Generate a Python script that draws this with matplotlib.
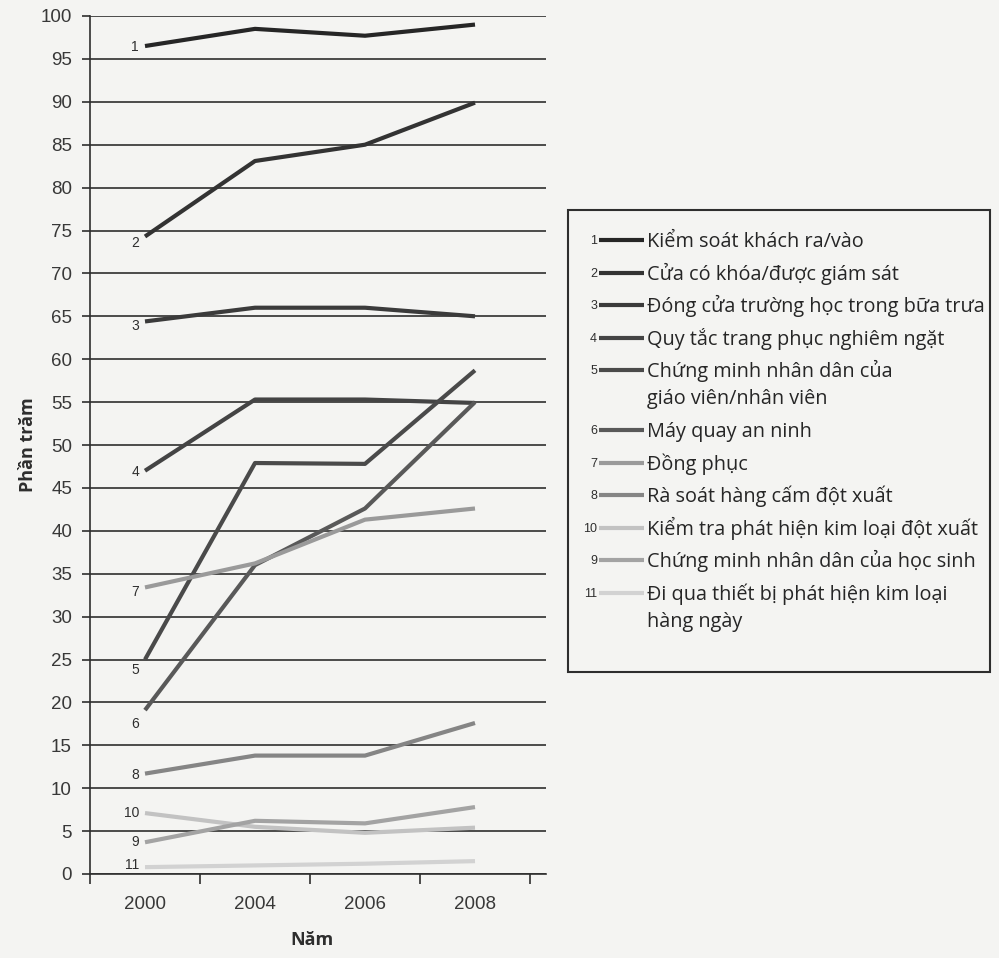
import matplotlib
matplotlib.use('Agg')
import matplotlib.pyplot as plt
from matplotlib.lines import Line2D
from matplotlib.patches import Rectangle

# ---------------------------------------------------------------------------
# data: % of schools using each security measure
# ---------------------------------------------------------------------------
YEARS = ['2000', '2004', '2006', '2008']

SERIES_IDS = ['1', '2', '3', '4', '5', '6', '7', '8', '10', '9', '11']
SERIES_NAMES = [
    'Kiểm soát khách ra/vào',
    'Cửa có khóa/được giám sát',
    'Đóng cửa trường học trong bữa trưa',
    'Quy tắc trang phục nghiêm ngặt',
    'Chứng minh nhân dân của\ngiáo viên/nhân viên',
    'Máy quay an ninh',
    'Đồng phục',
    'Rà soát hàng cấm đột xuất',
    'Kiểm tra phát hiện kim loại đột xuất',
    'Chứng minh nhân dân của học sinh',
    'Đi qua thiết bị phát hiện kim loại\nhàng ngày',
]

VIS_CONTROL    = [96.5, 98.5, 97.7, 99.0]
LOCKED_DOORS   = [74.3, 83.1, 85.0, 89.9]
CLOSED_LUNCH   = [64.4, 66.0, 66.0, 65.0]
DRESS_CODE     = [47.0, 55.3, 55.3, 54.9]
STAFF_ID       = [25.0, 47.9, 47.8, 58.7]
CAMERAS        = [19.1, 36.0, 42.6, 55.0]
UNIFORMS       = [33.4, 36.2, 41.3, 42.6]
CONTRABAND     = [11.7, 13.8, 13.8, 17.6]
RANDOM_METAL   = [7.1, 5.5, 4.8, 5.4]
STUDENT_ID     = [3.7, 6.2, 5.9, 7.8]
DAILY_METAL    = [0.8, 1.0, 1.2, 1.5]

VALUES = [VIS_CONTROL, LOCKED_DOORS, CLOSED_LUNCH, DRESS_CODE, STAFF_ID,
          CAMERAS, UNIFORMS, CONTRABAND, RANDOM_METAL, STUDENT_ID, DAILY_METAL]

# ---------------------------------------------------------------------------
# styling
# ---------------------------------------------------------------------------
COLORS = ['#262626', '#333333', '#3b3b3b', '#444444', '#4a4a4a', '#595959',
          '#9a9a9a', '#858585', '#c2c2c2', '#a3a3a3', '#d2d2d2']
# vertical nudge (px, positive = down) of the number tag at each line start
TAG_DY = [1, 6, 5, 1, 11, 14, 5, 1, 0, 0, -2]

BG = '#f4f4f2'
INK = '#2e2e2e'
W, H = 999, 958
PT = 72 / 100  # points per pixel at dpi=100


def fx(px):
    return px / W


def fy(py):
    return 1 - py / H


plt.rcParams['font.family'] = ['Liberation Sans', 'DejaVu Sans']

fig = plt.figure(figsize=(W / 100, H / 100), dpi=100, facecolor=BG)
ax = fig.add_axes([fx(90), fy(874), fx(546) - fx(90), fy(16) - fy(874)])
ax.set_facecolor(BG)

xs = list(range(len(YEARS)))
for vals, col, tag, dy in zip(VALUES, COLORS, SERIES_IDS, TAG_DY):
    ax.plot(xs, vals, color=col, lw=3.0, solid_capstyle='butt',
            solid_joinstyle='round', zorder=3)
    ax.annotate(tag, (xs[0], vals[0]), xytext=(-6 * PT, -dy * PT),
                textcoords='offset points', ha='right', va='center',
                fontsize=10, color=INK)

ax.set_xlim(-0.5, 3.5 + 16 / 110)
ax.set_ylim(0, 100)

ax.set_yticks(range(0, 101, 5))
ax.yaxis.grid(True, color=INK, lw=1.2)
ax.set_axisbelow(True)
ax.tick_params(axis='y', length=8 * PT, width=1.2, color=INK, pad=10 * PT,
               labelsize=13.5, labelcolor='#383838')

ax.set_xticks(xs)
ax.set_xticklabels(YEARS)
ax.set_xticks([-0.5, 0.5, 1.5, 2.5, 3.5], minor=True)
ax.tick_params(axis='x', which='major', length=0, pad=22 * PT,
               labelsize=13.5, labelcolor='#383838')
ax.tick_params(axis='x', which='minor', length=10 * PT, width=1.2, color=INK)

for side in ('top', 'right'):
    ax.spines[side].set_visible(False)
for side in ('left', 'bottom'):
    ax.spines[side].set_color(INK)
    ax.spines[side].set_linewidth(1.2)

fig.text(fx(28), fy(445), 'Phần trăm', rotation=90, ha='center', va='center',
         fontsize=13, fontweight='bold', color=INK, family=['Open Sans'])
fig.text(fx(312), fy(940), 'Năm', ha='center', va='center',
         fontsize=13, fontweight='bold', color=INK, family=['Open Sans'])

# legend box, built by hand so the series number sits before each key line
fig.add_artist(Rectangle((fx(568), fy(672)), fx(990) - fx(568),
                         fy(210) - fy(672), transform=fig.transFigure,
                         fill=False, ec=INK, lw=1.5))
row_y = 240
for tag, name, col in zip(SERIES_IDS, SERIES_NAMES, COLORS):
    fig.text(fx(597), fy(row_y + 1), tag, ha='right', va='center',
             fontsize=9, color=INK)
    fig.add_artist(Line2D([fx(599), fx(644)], [fy(row_y), fy(row_y)],
                          transform=fig.transFigure, color=col, lw=3.0,
                          solid_capstyle='butt'))
    lines = name.split('\n')
    for k, part in enumerate(lines):
        fig.text(fx(647), fy(row_y + 7 + 27 * k), part, ha='left',
                 va='baseline', fontsize=14.3, color='#262626',
                 family=['Open Sans'])
    row_y += 32.6 + 27 * (len(lines) - 1)

fig.savefig('out.png', dpi=100, facecolor=BG)
